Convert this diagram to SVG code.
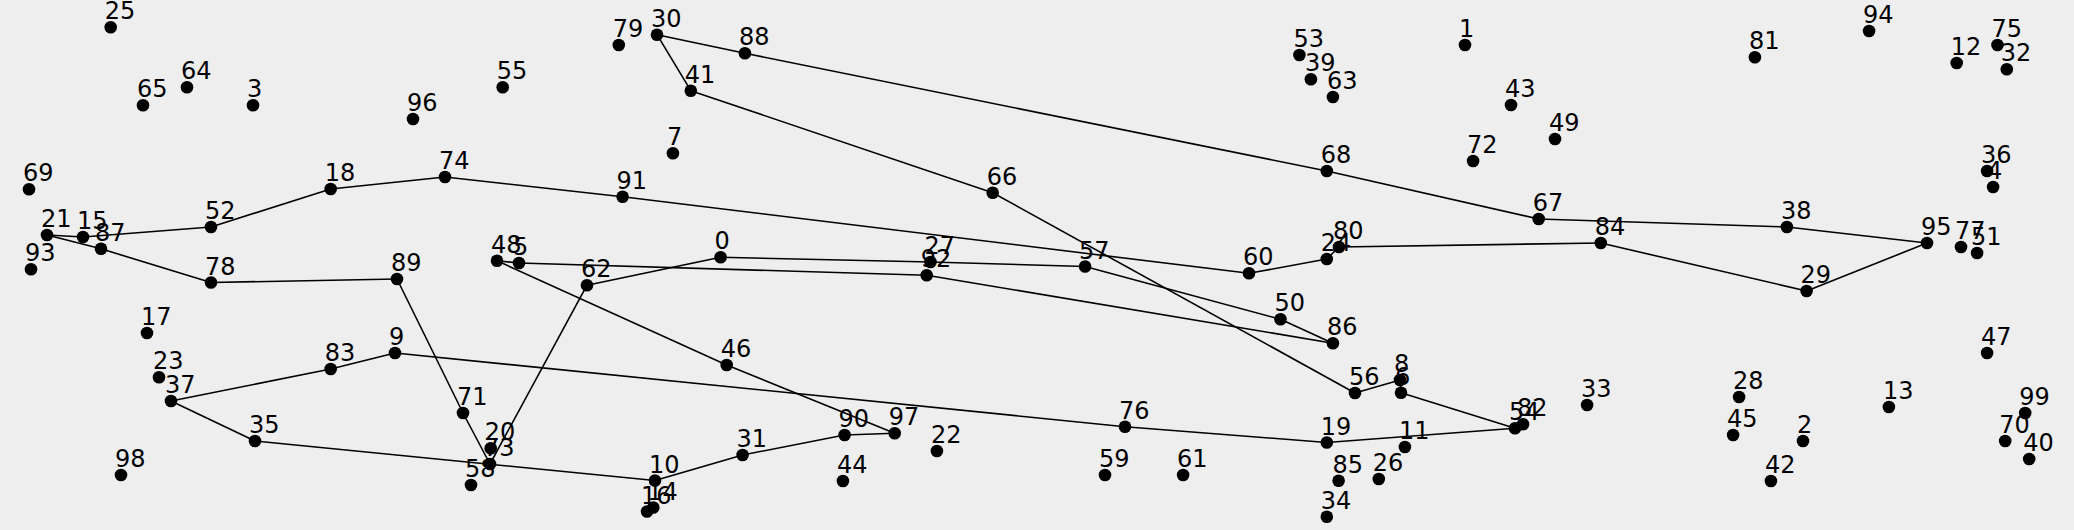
<svg xmlns="http://www.w3.org/2000/svg" width="2074" height="530" viewBox="0 0 2074 530">
<style>
.bg{fill:#eeeeee}
.e line{stroke:#000;stroke-width:1.6;fill:none}
.n circle{fill:#000}
.n text{font-family:"DejaVu Sans",sans-serif;font-size:24px;fill:#000}
</style>
<rect class="bg" x="0" y="0" width="2074" height="530"/>
<g id="edges" class="e">
<line x1="47" y1="235" x2="83" y2="237"/>
<line x1="83" y1="237" x2="211" y2="227"/>
<line x1="211" y1="227" x2="330.7" y2="189"/>
<line x1="330.7" y1="189" x2="445" y2="177"/>
<line x1="445" y1="177" x2="622.6" y2="196.7"/>
<line x1="622.6" y1="196.7" x2="1249" y2="273.3"/>
<line x1="1249" y1="273.3" x2="1326.8" y2="259"/>
<line x1="1326.8" y1="259" x2="1339" y2="247"/>
<line x1="1339" y1="247" x2="1600.8" y2="243"/>
<line x1="1600.8" y1="243" x2="1806.6" y2="291"/>
<line x1="1806.6" y1="291" x2="1927" y2="243"/>
<line x1="1927" y1="243" x2="1786.9" y2="227"/>
<line x1="1786.9" y1="227" x2="1538.7" y2="219"/>
<line x1="1538.7" y1="219" x2="1326.8" y2="171"/>
<line x1="1326.8" y1="171" x2="744.9" y2="53.3"/>
<line x1="744.9" y1="53.3" x2="657" y2="34.7"/>
<line x1="657" y1="34.7" x2="690.8" y2="90.7"/>
<line x1="690.8" y1="90.7" x2="992.7" y2="192.7"/>
<line x1="992.7" y1="192.7" x2="1355" y2="393"/>
<line x1="1355" y1="393" x2="1400" y2="380"/>
<line x1="1400" y1="380" x2="1401" y2="392.7"/>
<line x1="1401" y1="392.7" x2="1515" y2="428.3"/>
<line x1="1515" y1="428.3" x2="1326.8" y2="442.5"/>
<line x1="1326.8" y1="442.5" x2="1125" y2="426.7"/>
<line x1="1125" y1="426.7" x2="395" y2="353"/>
<line x1="395" y1="353" x2="330.7" y2="369"/>
<line x1="330.7" y1="369" x2="171" y2="401"/>
<line x1="171" y1="401" x2="255" y2="441"/>
<line x1="255" y1="441" x2="655" y2="480.5"/>
<line x1="655" y1="480.5" x2="742.6" y2="455"/>
<line x1="742.6" y1="455" x2="844.6" y2="435"/>
<line x1="844.6" y1="435" x2="894.7" y2="433.3"/>
<line x1="894.7" y1="433.3" x2="726.7" y2="365"/>
<line x1="726.7" y1="365" x2="497" y2="260.8"/>
<line x1="497" y1="260.8" x2="519" y2="263"/>
<line x1="519" y1="263" x2="926.7" y2="275.2"/>
<line x1="926.7" y1="275.2" x2="1332.9" y2="343.2"/>
<line x1="1332.9" y1="343.2" x2="1280.5" y2="319.3"/>
<line x1="1280.5" y1="319.3" x2="1085.1" y2="266.5"/>
<line x1="1085.1" y1="266.5" x2="930.5" y2="262"/>
<line x1="930.5" y1="262" x2="720.6" y2="257.3"/>
<line x1="720.6" y1="257.3" x2="587" y2="285.2"/>
<line x1="587" y1="285.2" x2="490" y2="464"/>
<line x1="490" y1="464" x2="463" y2="413"/>
<line x1="463" y1="413" x2="397" y2="279"/>
<line x1="397" y1="279" x2="211" y2="282.5"/>
<line x1="211" y1="282.5" x2="101" y2="248.8"/>
<line x1="101" y1="248.8" x2="47" y2="235"/>
</g>
<g id="nodes">
<g id="n0" class="n"><circle cx="720.6" cy="257.3" r="6.3"/><text x="714.6" y="249.3">0</text></g>
<g id="n1" class="n"><circle cx="1465" cy="45" r="6.3"/><text x="1459" y="37">1</text></g>
<g id="n2" class="n"><circle cx="1803" cy="441" r="6.3"/><text x="1797" y="433">2</text></g>
<g id="n3" class="n"><circle cx="253" cy="105.3" r="6.3"/><text x="247" y="97.3">3</text></g>
<g id="n4" class="n"><circle cx="1993.1" cy="187" r="6.3"/><text x="1987.1" y="179">4</text></g>
<g id="n5" class="n"><circle cx="519" cy="263" r="6.3"/><text x="513" y="255">5</text></g>
<g id="n6" class="n"><circle cx="1401" cy="392.7" r="6.3"/><text x="1395" y="384.7">6</text></g>
<g id="n7" class="n"><circle cx="672.9" cy="153.3" r="6.3"/><text x="666.9" y="145.3">7</text></g>
<g id="n9" class="n"><circle cx="395" cy="353" r="6.3"/><text x="389" y="345">9</text></g>
<g id="n10" class="n"><circle cx="655" cy="480.5" r="6.3"/><text x="649" y="472.5">10</text></g>
<g id="n11" class="n"><circle cx="1404.9" cy="447" r="6.3"/><text x="1398.9" y="439">11</text></g>
<g id="n12" class="n"><circle cx="1956.7" cy="63" r="6.3"/><text x="1950.7" y="55">12</text></g>
<g id="n13" class="n"><circle cx="1888.9" cy="407" r="6.3"/><text x="1882.9" y="399">13</text></g>
<g id="n14" class="n"><circle cx="653.3" cy="507.5" r="6.3"/><text x="647.3" y="499.5">14</text></g>
<g id="n16" class="n"><circle cx="647" cy="511.5" r="6.3"/><text x="641" y="503.5">16</text></g>
<g id="n17" class="n"><circle cx="147" cy="333" r="6.3"/><text x="141" y="325">17</text></g>
<g id="n18" class="n"><circle cx="330.7" cy="189" r="6.3"/><text x="324.7" y="181">18</text></g>
<g id="n19" class="n"><circle cx="1326.8" cy="442.5" r="6.3"/><text x="1320.8" y="434.5">19</text></g>
<g id="n21" class="n"><circle cx="47" cy="235" r="6.3"/><text x="41" y="227">21</text></g>
<g id="n22" class="n"><circle cx="936.9" cy="451" r="6.3"/><text x="930.9" y="443">22</text></g>
<g id="n23" class="n"><circle cx="159" cy="377.3" r="6.3"/><text x="153" y="369.3">23</text></g>
<g id="n24" class="n"><circle cx="1326.8" cy="259" r="6.3"/><text x="1320.8" y="251">24</text></g>
<g id="n25" class="n"><circle cx="110.7" cy="27.3" r="6.3"/><text x="104.7" y="19.3">25</text></g>
<g id="n26" class="n"><circle cx="1378.8" cy="479" r="6.3"/><text x="1372.8" y="471">26</text></g>
<g id="n28" class="n"><circle cx="1739.1" cy="397" r="6.3"/><text x="1733.1" y="389">28</text></g>
<g id="n29" class="n"><circle cx="1806.6" cy="291" r="6.3"/><text x="1800.6" y="283">29</text></g>
<g id="n30" class="n"><circle cx="657" cy="34.7" r="6.3"/><text x="651" y="26.7">30</text></g>
<g id="n31" class="n"><circle cx="742.6" cy="455" r="6.3"/><text x="736.6" y="447">31</text></g>
<g id="n32" class="n"><circle cx="2006.8" cy="69.3" r="6.3"/><text x="2000.8" y="61.3">32</text></g>
<g id="n33" class="n"><circle cx="1587.1" cy="405" r="6.3"/><text x="1581.1" y="397">33</text></g>
<g id="n34" class="n"><circle cx="1326.8" cy="516.7" r="6.3"/><text x="1320.8" y="508.7">34</text></g>
<g id="n35" class="n"><circle cx="255" cy="441" r="6.3"/><text x="249" y="433">35</text></g>
<g id="n37" class="n"><circle cx="171" cy="401" r="6.3"/><text x="165" y="393">37</text></g>
<g id="n38" class="n"><circle cx="1786.9" cy="227" r="6.3"/><text x="1780.9" y="219">38</text></g>
<g id="n39" class="n"><circle cx="1310.9" cy="79.3" r="6.3"/><text x="1304.9" y="71.3">39</text></g>
<g id="n40" class="n"><circle cx="2029.2" cy="459" r="6.3"/><text x="2023.2" y="451">40</text></g>
<g id="n41" class="n"><circle cx="690.8" cy="90.7" r="6.3"/><text x="684.8" y="82.7">41</text></g>
<g id="n42" class="n"><circle cx="1770.9" cy="481" r="6.3"/><text x="1764.9" y="473">42</text></g>
<g id="n43" class="n"><circle cx="1511" cy="105" r="6.3"/><text x="1505" y="97">43</text></g>
<g id="n44" class="n"><circle cx="842.9" cy="481" r="6.3"/><text x="836.9" y="473">44</text></g>
<g id="n45" class="n"><circle cx="1733.1" cy="435" r="6.3"/><text x="1727.1" y="427">45</text></g>
<g id="n46" class="n"><circle cx="726.7" cy="365" r="6.3"/><text x="720.7" y="357">46</text></g>
<g id="n47" class="n"><circle cx="1987.1" cy="353" r="6.3"/><text x="1981.1" y="345">47</text></g>
<g id="n48" class="n"><circle cx="497" cy="260.8" r="6.3"/><text x="491" y="252.8">48</text></g>
<g id="n49" class="n"><circle cx="1555" cy="139" r="6.3"/><text x="1549" y="131">49</text></g>
<g id="n50" class="n"><circle cx="1280.5" cy="319.3" r="6.3"/><text x="1274.5" y="311.3">50</text></g>
<g id="n51" class="n"><circle cx="1977.1" cy="253" r="6.3"/><text x="1971.1" y="245">51</text></g>
<g id="n52" class="n"><circle cx="211" cy="227" r="6.3"/><text x="205" y="219">52</text></g>
<g id="n53" class="n"><circle cx="1299.4" cy="55" r="6.3"/><text x="1293.4" y="47">53</text></g>
<g id="n54" class="n"><circle cx="1515" cy="428.3" r="6.3"/><text x="1509" y="420.3">54</text></g>
<g id="n55" class="n"><circle cx="502.7" cy="87.3" r="6.3"/><text x="496.7" y="79.3">55</text></g>
<g id="n56" class="n"><circle cx="1355" cy="393" r="6.3"/><text x="1349" y="385">56</text></g>
<g id="n57" class="n"><circle cx="1085.1" cy="266.5" r="6.3"/><text x="1079.1" y="258.5">57</text></g>
<g id="n58" class="n"><circle cx="471" cy="485" r="6.3"/><text x="465" y="477">58</text></g>
<g id="n59" class="n"><circle cx="1105" cy="475" r="6.3"/><text x="1099" y="467">59</text></g>
<g id="n60" class="n"><circle cx="1249" cy="273.3" r="6.3"/><text x="1243" y="265.3">60</text></g>
<g id="n61" class="n"><circle cx="1183.1" cy="475" r="6.3"/><text x="1177.1" y="467">61</text></g>
<g id="n62" class="n"><circle cx="587" cy="285.2" r="6.3"/><text x="581" y="277.2">62</text></g>
<g id="n63" class="n"><circle cx="1332.9" cy="97" r="6.3"/><text x="1326.9" y="89">63</text></g>
<g id="n64" class="n"><circle cx="187" cy="87.3" r="6.3"/><text x="181" y="79.3">64</text></g>
<g id="n65" class="n"><circle cx="143" cy="105.3" r="6.3"/><text x="137" y="97.3">65</text></g>
<g id="n66" class="n"><circle cx="992.7" cy="192.7" r="6.3"/><text x="986.7" y="184.7">66</text></g>
<g id="n67" class="n"><circle cx="1538.7" cy="219" r="6.3"/><text x="1532.7" y="211">67</text></g>
<g id="n68" class="n"><circle cx="1326.8" cy="171" r="6.3"/><text x="1320.8" y="163">68</text></g>
<g id="n69" class="n"><circle cx="29" cy="189.3" r="6.3"/><text x="23" y="181.3">69</text></g>
<g id="n70" class="n"><circle cx="2005.2" cy="441" r="6.3"/><text x="1999.2" y="433">70</text></g>
<g id="n71" class="n"><circle cx="463" cy="413" r="6.3"/><text x="457" y="405">71</text></g>
<g id="n72" class="n"><circle cx="1473.1" cy="161" r="6.3"/><text x="1467.1" y="153">72</text></g>
<g id="n73" class="n"><circle cx="490" cy="464" r="6.3"/><text x="484" y="456">73</text></g>
<g id="n74" class="n"><circle cx="445" cy="177" r="6.3"/><text x="439" y="169">74</text></g>
<g id="n75" class="n"><circle cx="1997.5" cy="45" r="6.3"/><text x="1991.5" y="37">75</text></g>
<g id="n76" class="n"><circle cx="1125" cy="426.7" r="6.3"/><text x="1119" y="418.7">76</text></g>
<g id="n77" class="n"><circle cx="1961" cy="247" r="6.3"/><text x="1955" y="239">77</text></g>
<g id="n78" class="n"><circle cx="211" cy="282.5" r="6.3"/><text x="205" y="274.5">78</text></g>
<g id="n79" class="n"><circle cx="618.8" cy="45" r="6.3"/><text x="612.8" y="37">79</text></g>
<g id="n80" class="n"><circle cx="1339" cy="247" r="6.3"/><text x="1333" y="239">80</text></g>
<g id="n81" class="n"><circle cx="1754.9" cy="57.3" r="6.3"/><text x="1748.9" y="49.3">81</text></g>
<g id="n82" class="n"><circle cx="1523" cy="424.3" r="6.3"/><text x="1517" y="416.3">82</text></g>
<g id="n83" class="n"><circle cx="330.7" cy="369" r="6.3"/><text x="324.7" y="361">83</text></g>
<g id="n84" class="n"><circle cx="1600.8" cy="243" r="6.3"/><text x="1594.8" y="235">84</text></g>
<g id="n85" class="n"><circle cx="1338.6" cy="480.7" r="6.3"/><text x="1332.6" y="472.7">85</text></g>
<g id="n86" class="n"><circle cx="1332.9" cy="343.2" r="6.3"/><text x="1326.9" y="335.2">86</text></g>
<g id="n87" class="n"><circle cx="101" cy="248.8" r="6.3"/><text x="95" y="240.8">87</text></g>
<g id="n88" class="n"><circle cx="744.9" cy="53.3" r="6.3"/><text x="738.9" y="45.3">88</text></g>
<g id="n89" class="n"><circle cx="397" cy="279" r="6.3"/><text x="391" y="271">89</text></g>
<g id="n90" class="n"><circle cx="844.6" cy="435" r="6.3"/><text x="838.6" y="427">90</text></g>
<g id="n91" class="n"><circle cx="622.6" cy="196.7" r="6.3"/><text x="616.6" y="188.7">91</text></g>
<g id="n92" class="n"><circle cx="926.7" cy="275.2" r="6.3"/><text x="920.7" y="267.2">92</text></g>
<g id="n93" class="n"><circle cx="31" cy="269.2" r="6.3"/><text x="25" y="261.2">93</text></g>
<g id="n94" class="n"><circle cx="1869.1" cy="31" r="6.3"/><text x="1863.1" y="23">94</text></g>
<g id="n95" class="n"><circle cx="1927" cy="243" r="6.3"/><text x="1921" y="235">95</text></g>
<g id="n96" class="n"><circle cx="413" cy="119" r="6.3"/><text x="407" y="111">96</text></g>
<g id="n97" class="n"><circle cx="894.7" cy="433.3" r="6.3"/><text x="888.7" y="425.3">97</text></g>
<g id="n98" class="n"><circle cx="121" cy="475" r="6.3"/><text x="115" y="467">98</text></g>
<g id="n99" class="n"><circle cx="2025.2" cy="413" r="6.3"/><text x="2019.2" y="405">99</text></g>
<g id="n8" class="n"><circle cx="1400" cy="380" r="6.3"/><text x="1394" y="372">8</text></g>
<g id="n15" class="n"><circle cx="83" cy="237" r="6.3"/><text x="77" y="229">15</text></g>
<g id="n20" class="n"><circle cx="490.7" cy="448.3" r="6.3"/><text x="484.7" y="440.3">20</text></g>
<g id="n27" class="n"><circle cx="930.5" cy="262" r="6.3"/><text x="924.5" y="254">27</text></g>
<g id="n36" class="n"><circle cx="1987.1" cy="171" r="6.3"/><text x="1981.1" y="163">36</text></g>
</g>
</svg>
